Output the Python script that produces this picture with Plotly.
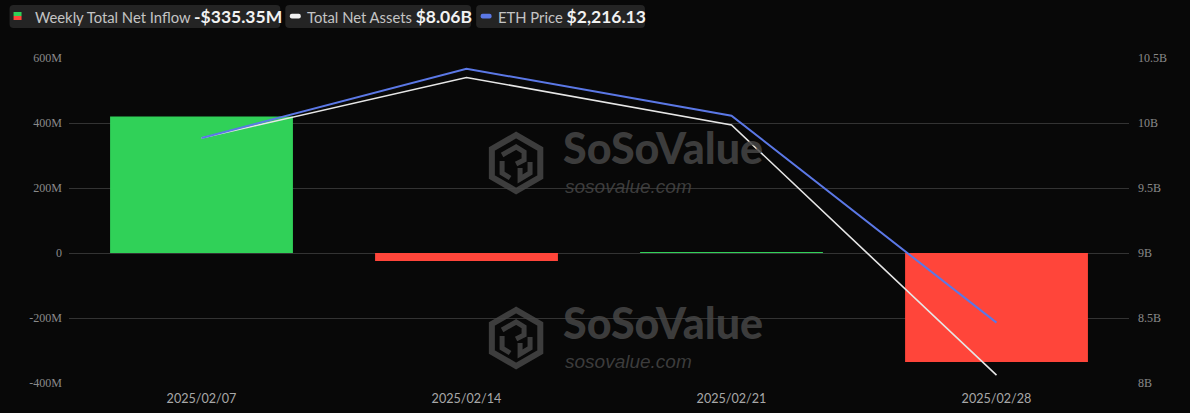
import math
import plotly.graph_objects as go

# ---------------- data ----------------
dates = ["2025/02/07", "2025/02/14", "2025/02/21", "2025/02/28"]
net_inflow_m = [420.0, -24.5, 2.0, -335.35]          # millions USD
net_assets_b = [9.885, 10.35, 9.985, 8.06]            # billions USD
eth_price = [2571.2, 2704.4, 2614.0, 2216.13]          # USD

left_tickvals = [-400, -200, 0, 200, 400, 600]
left_ticktext = ["-400M", "-200M", "0", "200M", "400M", "600M"]
right_tickvals = [8, 8.5, 9, 9.5, 10, 10.5]
right_ticktext = ["8B", "8.5B", "9B", "9.5B", "10B", "10.5B"]

legend_labels = ["Weekly Total Net Inflow", "Total Net Assets", "ETH Price"]
legend_values = ["-$335.35M", "$8.06B", "$2,216.13"]

# ---------------- styling ----------------
BG = "#080808"
GREEN = "#30d158"
RED = "#ff453a"
WHITE_LINE = "#e6e6e6"
BLUE_LINE = "#5b78e6"
GRID = "#333333"
WM = "rgba(70,70,70,0.85)"

W, H = 1190, 413
L, R, T, B = 68.5, 60.5, 58, 30
PW, PH = W - L - R, H - T - B


def px(x):
    return (x - L) / PW


def py(y):
    return (H - B - y) / PH


bar_colors = [GREEN if v >= 0 else RED for v in net_inflow_m]

fig = go.Figure()
fig.add_trace(go.Bar(x=dates, y=net_inflow_m, marker=dict(color=bar_colors, line=dict(width=0)),
                     width=0.69, name=legend_labels[0], yaxis="y", showlegend=False))
fig.add_trace(go.Scatter(x=dates, y=net_assets_b, mode="lines", line=dict(color=WHITE_LINE, width=1.6),
                         name=legend_labels[1], yaxis="y2", showlegend=False))
fig.add_trace(go.Scatter(x=dates, y=eth_price, mode="lines", line=dict(color=BLUE_LINE, width=2),
                         name=legend_labels[2], yaxis="y3", showlegend=False))

tickfont = dict(family="Liberation Serif", size=12, color="#8a8a8a")

fig.update_layout(
    width=W, height=H,
    margin=dict(l=L, r=R, t=T, b=B, pad=0, autoexpand=False),
    paper_bgcolor=BG, plot_bgcolor=BG,
    xaxis=dict(type="category", showgrid=False, showline=False, zeroline=False, ticks="", automargin=False,
               tickfont=dict(family="Lato", size=12.6, color="#a8a8a8"), ticklabelstandoff=6),
    yaxis=dict(range=[-400, 600], tickvals=left_tickvals, ticktext=left_ticktext, automargin=False,
               showgrid=True, gridcolor=GRID, gridwidth=1, zeroline=True, zerolinecolor=GRID, zerolinewidth=1,
               showline=False, ticks="", tickfont=tickfont, ticklabelstandoff=6),
    yaxis2=dict(range=[8, 10.5], tickvals=right_tickvals, ticktext=right_ticktext, overlaying="y", side="right",
                automargin=False,
                showgrid=False, zeroline=False, showline=False, ticks="", tickfont=tickfont, ticklabelstandoff=8),
    yaxis3=dict(range=[2100, 2725], overlaying="y", visible=False),
    showlegend=False,
    font=dict(family="Lato", color="#cccccc"),
)

shapes = []
annotations = []


# ---------------- custom legend ----------------
def rounded_rect(x0, y0, x1, y1, r=4):
    X0, X1 = px(x0), px(x1)
    Y0, Y1 = py(y0), py(y1)  # Y0 top (larger), Y1 bottom
    rx, ry = r / PW, r / PH
    return (f"M {X0+rx},{Y0} L {X1-rx},{Y0} Q {X1},{Y0} {X1},{Y0-ry} L {X1},{Y1+ry} "
            f"Q {X1},{Y1} {X1-rx},{Y1} L {X0+rx},{Y1} Q {X0},{Y1} {X0},{Y1+ry} L {X0},{Y0-ry} Q {X0},{Y0} {X0+rx},{Y0} Z")


boxes = [(9, 280), (285, 471), (476, 645)]
text_x = [32, 305, 496]
for (bx0, bx1) in boxes:
    shapes.append(dict(type="path", xref="paper", yref="paper", path=rounded_rect(bx0, 5, bx1, 28, 4),
                       fillcolor="#242424", line=dict(width=0), layer="above"))

# icons
shapes.append(dict(type="rect", xref="paper", yref="paper", x0=px(13), x1=px(21), y0=py(12), y1=py(16),
                   fillcolor=GREEN, line=dict(width=0)))
shapes.append(dict(type="rect", xref="paper", yref="paper", x0=px(13), x1=px(21), y0=py(16), y1=py(20),
                   fillcolor=RED, line=dict(width=0)))
shapes.append(dict(type="path", xref="paper", yref="paper", path=rounded_rect(289.5, 13.8, 300.5, 18.6, 2),
                   fillcolor="#f2f2f2", line=dict(width=0)))
shapes.append(dict(type="path", xref="paper", yref="paper", path=rounded_rect(480.5, 13.8, 491.5, 18.6, 2),
                   fillcolor=BLUE_LINE, line=dict(width=0)))

for lab, val, tx in zip(legend_labels, legend_values, text_x):
    annotations.append(dict(xref="paper", yref="paper", x=px(tx), y=py(16.5), xanchor="left", yanchor="middle",
                            showarrow=False,
                            text=f"{lab} <b><span style='font-size:17.5px;color:#f2f2f2'>{val}</span></b>",
                            font=dict(family="Lato", size=14.8, color="#c4c4c4")))

# ---------------- watermarks ----------------
for cy in (163, 338):
    cx = 516
    rr = 28
    pts = []
    for k in range(6):
        a = math.radians(90 + 60 * k)
        pts.append((cx + rr * math.cos(a), cy - rr * math.sin(a)))
    path = "M " + " L ".join(f"{px(x)},{py(y)}" for x, y in pts) + " Z"
    shapes.append(dict(type="path", xref="paper", yref="paper", path=path, fillcolor="rgba(0,0,0,0)",
                       line=dict(color=WM, width=6), layer="above"))
    inner = [((cx - 14, cy - 8), (cx, cy - 16), (cx + 8, cy - 11), (cx + 8, cy - 3), (cx, cy + 1)),
             ((cx - 14, cy - 2), (cx - 14, cy + 10), (cx - 6, cy + 15)),
             ((cx + 4, cy + 5), (cx + 4, cy + 16), (cx + 14, cy + 10), (cx + 14, cy - 1))]
    for seg in inner:
        p = "M " + " L ".join(f"{px(x)},{py(y)}" for x, y in seg)
        shapes.append(dict(type="path", xref="paper", yref="paper", path=p,
                           line=dict(color=WM, width=5), layer="above"))
    split = cy + 11
    annotations.append(dict(xref="paper", yref="paper", x=px(562), y=py(split), xanchor="left", yanchor="bottom",
                            showarrow=False, borderpad=0, text="SoSoValue",
                            font=dict(family="Lato", size=43, color=WM, weight=900)))
    annotations.append(dict(xref="paper", yref="paper", x=px(564), y=py(split + 1), xanchor="left", yanchor="top",
                            showarrow=False, borderpad=0, text="<i>sosovalue.com</i>",
                            font=dict(family="Liberation Sans", size=19, color=WM)))

fig.update_layout(shapes=shapes, annotations=annotations)

fig.write_html("out.html", config={"displayModeBar": False},
               post_script="document.body.style.margin='0';document.body.style.background='#080808';")
